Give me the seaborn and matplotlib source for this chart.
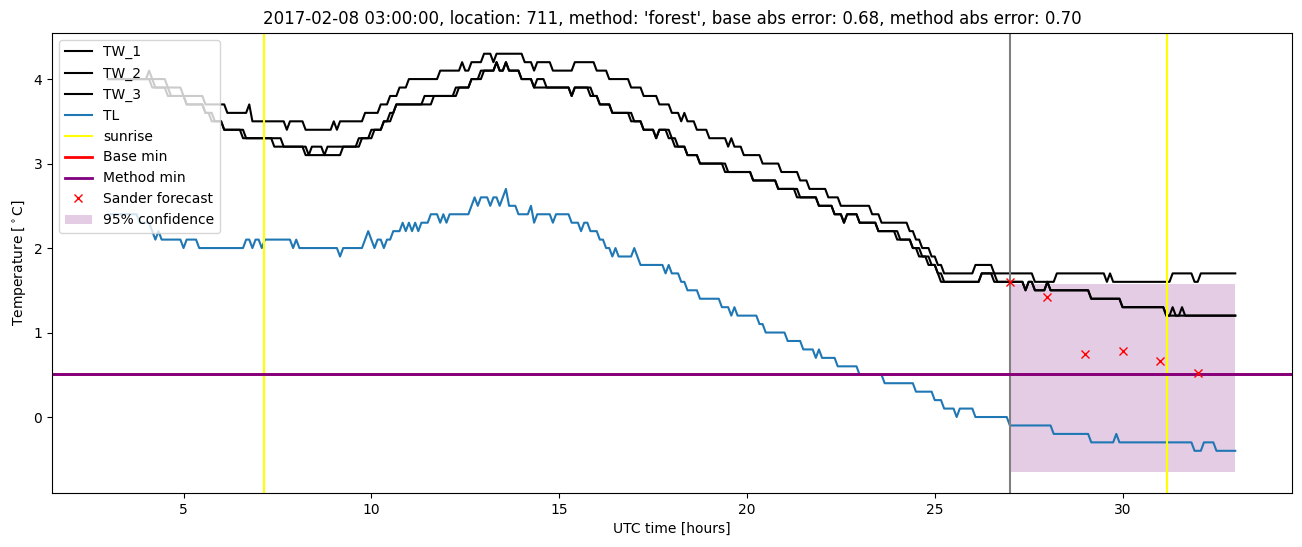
import numpy as np
import pandas as pd
import matplotlib
matplotlib.use("Agg")
import matplotlib.pyplot as plt
import seaborn as sns

# water temperature sensors: (hour where value starts, value in degC), 5 min samples
tw1_steps = [
    (3.0, 4.0), (4.08, 4.1), (4.17, 4.0), (4.58, 3.9), (5.0, 3.8), (5.58, 3.7), (6.17, 3.6),
    (6.75, 3.7), (6.83, 3.5), (7.75, 3.4), (7.83, 3.5), (8.25, 3.4), (9.0, 3.5), (9.08, 3.4),
    (9.17, 3.5), (9.83, 3.6), (10.25, 3.7), (10.5, 3.8), (10.75, 3.9), (11.0, 4.0), (11.83, 4.1),
    (12.42, 4.2), (12.5, 4.1), (12.67, 4.2), (13.0, 4.3), (13.25, 4.2), (13.33, 4.3), (14.08, 4.2),
    (14.33, 4.1), (14.42, 4.2), (14.83, 4.1), (15.42, 4.2), (16.0, 4.1), (16.33, 4.0), (16.92, 3.9),
    (17.25, 3.8), (17.67, 3.7), (18.0, 3.6), (18.25, 3.5), (18.33, 3.6), (18.42, 3.5), (18.67, 3.4),
    (19.0, 3.3), (19.5, 3.2), (19.58, 3.3), (19.67, 3.2), (19.92, 3.1), (20.42, 3.0), (20.92, 2.9),
    (21.42, 2.8), (21.67, 2.7), (22.17, 2.6), (22.5, 2.5), (23.33, 2.4), (23.58, 2.3), (24.33, 2.2),
    (24.5, 2.1), (24.67, 2.0), (24.92, 1.9), (25.08, 1.8), (25.25, 1.7), (26.08, 1.8), (26.58, 1.7),
    (27.67, 1.6), (28.25, 1.7), (29.58, 1.6), (29.67, 1.7), (29.75, 1.6), (31.33, 1.7), (31.92, 1.6),
    (32.08, 1.7),
]
tw2_steps = [
    (3.0, 4.0), (4.17, 3.9), (4.58, 3.8), (5.08, 3.7), (5.58, 3.6), (5.75, 3.5), (6.08, 3.4),
    (6.58, 3.3), (7.42, 3.2), (8.33, 3.1), (8.42, 3.2), (8.75, 3.1), (8.83, 3.2), (9.67, 3.3),
    (10.0, 3.4), (10.33, 3.5), (10.5, 3.6), (10.67, 3.7), (11.42, 3.8), (12.25, 3.9), (12.67, 4.0),
    (12.92, 4.1), (13.33, 4.2), (13.42, 4.1), (13.58, 4.2), (13.67, 4.1), (14.0, 4.0), (14.33, 3.9),
    (14.42, 4.0), (14.67, 3.9), (15.33, 3.8), (15.42, 3.9), (15.83, 3.8), (16.08, 3.7), (16.42, 3.6),
    (16.92, 3.5), (17.25, 3.4), (17.58, 3.3), (17.67, 3.4), (17.92, 3.3), (18.08, 3.2), (18.42, 3.1),
    (18.75, 3.0), (19.42, 2.9), (20.17, 2.8), (20.83, 2.7), (21.33, 2.6), (21.92, 2.5), (22.33, 2.4),
    (22.58, 2.3), (22.67, 2.4), (23.0, 2.3), (23.5, 2.2), (24.0, 2.1), (24.42, 2.0), (24.58, 1.9),
    (24.83, 1.8), (25.08, 1.7), (25.17, 1.6), (26.25, 1.7), (26.58, 1.6), (27.42, 1.5), (27.5, 1.6),
    (27.67, 1.5), (28.0, 1.6), (28.08, 1.5), (29.17, 1.4), (30.0, 1.3), (31.17, 1.2), (31.33, 1.3),
    (31.42, 1.2),
]
tw3_steps = [
    (3.0, 4.0), (4.25, 3.9), (4.67, 3.8), (5.08, 3.7), (5.58, 3.6), (5.83, 3.5), (6.08, 3.4),
    (6.67, 3.3), (7.67, 3.2), (8.25, 3.1), (9.25, 3.2), (9.75, 3.3), (10.08, 3.4), (10.33, 3.5),
    (10.58, 3.6), (10.67, 3.7), (11.67, 3.8), (12.33, 3.9), (12.67, 4.0), (13.0, 4.1), (13.33, 4.2),
    (13.42, 4.1), (13.58, 4.2), (13.67, 4.1), (14.0, 4.0), (14.33, 3.9), (15.33, 3.8), (15.42, 3.9),
    (15.92, 3.8), (16.08, 3.7), (16.42, 3.6), (17.0, 3.5), (17.25, 3.4), (17.58, 3.3), (17.67, 3.4),
    (18.0, 3.3), (18.17, 3.2), (18.42, 3.1), (18.75, 3.0), (19.5, 2.9), (20.17, 2.8), (20.83, 2.7),
    (21.42, 2.6), (21.92, 2.5), (22.33, 2.4), (22.58, 2.3), (22.67, 2.4), (23.0, 2.3), (23.5, 2.2),
    (24.08, 2.1), (24.42, 2.0), (24.67, 1.9), (24.92, 1.8), (25.08, 1.7), (25.25, 1.6), (26.25, 1.7),
    (26.67, 1.6), (27.42, 1.5), (27.5, 1.6), (27.67, 1.5), (28.0, 1.6), (28.08, 1.5), (29.17, 1.4),
    (30.0, 1.3), (31.17, 1.2), (31.58, 1.3), (31.67, 1.2),
]
# air temperature
tl_steps = [
    (3.0, 2.4), (3.83, 2.3), (4.17, 2.2), (4.25, 2.1), (4.33, 2.2), (4.42, 2.1), (5.0, 2.0),
    (5.08, 2.1), (5.42, 2.0), (6.67, 2.1), (6.83, 2.0), (6.92, 2.1), (7.08, 2.0), (7.17, 2.1),
    (7.92, 2.0), (8.0, 2.1), (8.08, 2.0), (9.17, 1.9), (9.25, 2.0), (9.83, 2.1), (9.92, 2.2),
    (10.0, 2.1), (10.08, 2.0), (10.17, 2.1), (10.33, 2.0), (10.42, 2.1), (10.58, 2.2), (10.83, 2.3),
    (10.92, 2.2), (11.0, 2.3), (11.08, 2.2), (11.17, 2.3), (11.25, 2.2), (11.33, 2.3), (11.58, 2.4),
    (11.83, 2.3), (11.92, 2.4), (12.0, 2.3), (12.08, 2.4), (12.67, 2.5), (12.75, 2.6), (12.83, 2.5),
    (12.92, 2.6), (13.17, 2.5), (13.25, 2.6), (13.42, 2.5), (13.5, 2.6), (13.58, 2.7), (13.67, 2.5),
    (13.92, 2.4), (14.25, 2.5), (14.33, 2.3), (14.42, 2.4), (14.83, 2.3), (14.92, 2.4), (15.33, 2.3),
    (15.58, 2.2), (15.67, 2.3), (15.83, 2.2), (16.08, 2.1), (16.25, 2.0), (16.42, 1.9), (16.5, 2.0),
    (16.58, 1.9), (17.0, 2.0), (17.08, 1.9), (17.17, 1.8), (17.83, 1.7), (17.92, 1.8), (18.0, 1.7),
    (18.25, 1.6), (18.42, 1.5), (18.75, 1.4), (19.33, 1.3), (19.58, 1.2), (19.67, 1.3), (19.75, 1.2),
    (20.33, 1.1), (20.5, 1.0), (21.08, 0.9), (21.5, 0.8), (21.83, 0.7), (21.92, 0.8), (22.0, 0.7),
    (22.42, 0.6), (23.0, 0.5), (23.67, 0.4), (24.5, 0.3), (25.0, 0.2), (25.25, 0.1), (25.58, 0.0),
    (25.67, 0.1), (26.08, 0.0), (27.0, -0.1), (28.17, -0.2), (29.17, -0.3), (29.83, -0.2),
    (29.92, -0.3), (31.92, -0.4), (32.17, -0.3), (32.5, -0.4),
]

sunrise_hours = [7.15, 31.17]
forecast_start = 27.0
base_min = 0.514
method_min = 0.51
sander_hours = [27, 28, 29, 30, 31, 32]
sander_temp = [1.60, 1.42, 0.75, 0.78, 0.66, 0.52]
conf_hours = [27.0, 33.0]
conf_low = [-0.65, -0.65]
conf_high = [1.58, 1.58]

title = ("2017-02-08 03:00:00, location: 711, method: 'forest', "
         "base abs error: 0.68, method abs error: 0.70")

# 5 minute time axis
hours = np.arange(3.0, 33.0 + 1e-9, 1 / 12)


def expand(steps):
    t = np.array([s[0] for s in steps])
    v = np.array([s[1] for s in steps])
    idx = np.searchsorted(t, hours + 0.02, side="right") - 1
    return v[idx]


df = pd.DataFrame({
    "hours": hours,
    "TW_1": expand(tw1_steps),
    "TW_2": expand(tw2_steps),
    "TW_3": expand(tw3_steps),
    "TL": expand(tl_steps),
})

fig, ax = plt.subplots(figsize=(13.02, 5.47), dpi=100)
fig.subplots_adjust(left=0.04, right=0.992, top=0.94, bottom=0.099)

for col in ["TW_1", "TW_2", "TW_3"]:
    sns.lineplot(data=df, x="hours", y=col, color="black", label=col, ax=ax,
                 estimator=None, linewidth=1.5)
sns.lineplot(data=df, x="hours", y="TL", color="tab:blue", label="TL", ax=ax,
             estimator=None, linewidth=1.5)

for i, h in enumerate(sunrise_hours):
    ax.axvline(h, color="yellow", linewidth=1.5, label="sunrise" if i == 0 else None)
ax.axvline(forecast_start, color="gray", linewidth=1.5)
ax.axhline(base_min, color="red", linewidth=2, label="Base min")
ax.axhline(method_min, color="purple", linewidth=2, label="Method min")

ax.plot(sander_hours, sander_temp, "x", color="red", label="Sander forecast")
ax.fill_between(conf_hours, conf_low, conf_high, color="purple", alpha=0.2,
                linewidth=0, label="95% confidence")

ax.set_title(title, fontsize=12)
ax.set_xlabel("UTC time [hours]")
ax.set_ylabel("Temperature [$^\\circ$C]")
ax.legend(loc="upper left")

plt.savefig("out.png", dpi=100)
plt.close()
